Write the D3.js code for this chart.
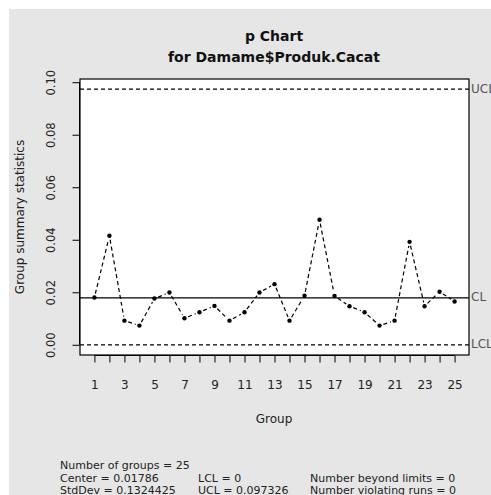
<!DOCTYPE html>
<html>
<head>
<meta charset="utf-8">
<script src="https://cdn.jsdelivr.net/npm/d3@7"></script>
<style>
  body { margin: 0; background: #fff; }
  svg { display: block; font-family: "DejaVu Sans", sans-serif; }
</style>
</head>
<body>
<svg width="491" height="495"></svg>
<script>
"use strict";

// group numbers and proportion defective per group
var groups = d3.range(1, 26);
var pValues = [0.0180, 0.0415, 0.0092, 0.0073, 0.0176, 0.0199, 0.0101, 0.0124, 0.0148, 0.0092,
	0.0124, 0.0199, 0.0231, 0.0092, 0.0187, 0.0476, 0.0186, 0.0147, 0.0124, 0.0073,
	0.0092, 0.0392, 0.0147, 0.0202, 0.0165];
var center = 0.01786;
var lcl = 0;
var ucl = 0.097326;
var yTicks = [0, 0.02, 0.04, 0.06, 0.08, 0.10];
var xLabels = [1, 3, 5, 7, 9, 11, 13, 15, 17, 19, 21, 23, 25];
var statsLines = [
	["Number of groups = 25", "", ""],
	["Center = 0.01786", "LCL = 0", "Number beyond limits = 0"],
	["StdDev = 0.1324425", "UCL = 0.097326", "Number violating runs = 0"]
];

var FONT = 'DejaVu Sans, sans-serif';
var svg = d3.select('svg');
var box = {left: 80, right: 469, top: 79, bottom: 355};

svg.append('rect')
	.attr('x', 9).attr('y', 9).attr('width', 482).attr('height', 486)
	.attr('fill', '#e6e6e6');

// R style 4% padding around data range
var x = d3.scaleLinear().domain([0.04, 25.96]).range([box.left, box.right]);
var y = d3.scaleLinear().domain([-0.00389, 0.10122]).range([box.bottom, box.top]);

svg.append('rect')
	.attr('x', box.left).attr('y', box.top)
	.attr('width', box.right - box.left).attr('height', box.bottom - box.top)
	.attr('fill', '#fff');

// limit lines
svg.append('line')
	.attr('x1', box.left).attr('x2', box.right)
	.attr('y1', y(center)).attr('y2', y(center))
	.attr('stroke', '#000').attr('stroke-width', 1.3);

[lcl, ucl].forEach(function(v) {
	svg.append('line')
		.attr('x1', box.left).attr('x2', box.right)
		.attr('y1', y(v)).attr('y2', y(v))
		.attr('stroke', '#000').attr('stroke-width', 1.3)
		.attr('stroke-dasharray', '4,3');
});

// dashed connecting segments with gaps at the points (type = "b")
var pts = groups.map(function(g, i) { return [x(g), y(pValues[i])]; });
var segs = d3.pairs(pts);
var gap = 4;
function trim(d, end) {
	var dx = d[1][0] - d[0][0], dy = d[1][1] - d[0][1], l = Math.hypot(dx, dy);
	return end ? [d[1][0] - dx * gap / l, d[1][1] - dy * gap / l] : [d[0][0] + dx * gap / l, d[0][1] + dy * gap / l];
}
svg.append('g').selectAll('line').data(segs).enter().append('line')
	.attr('x1', function(d) { return trim(d, false)[0]; })
	.attr('y1', function(d) { return trim(d, false)[1]; })
	.attr('x2', function(d) { return trim(d, true)[0]; })
	.attr('y2', function(d) { return trim(d, true)[1]; })
	.attr('stroke', '#000').attr('stroke-width', 1.2)
	.attr('stroke-dasharray', '4,3');

svg.append('g').selectAll('circle').data(pts).enter().append('circle')
	.attr('cx', function(d) { return d[0]; })
	.attr('cy', function(d) { return d[1]; })
	.attr('r', 2.2)
	.attr('fill', '#000');

svg.append('rect')
	.attr('x', box.left).attr('y', box.top)
	.attr('width', box.right - box.left).attr('height', box.bottom - box.top)
	.attr('fill', 'none').attr('stroke', '#000').attr('stroke-width', 1.2);

// x axis
var xAxis = d3.axisBottom(x).tickValues(groups).tickSize(7)
	.tickFormat(function(d) { return xLabels.indexOf(d) >= 0 ? d : ''; });
var gx = svg.append('g').attr('transform', 'translate(0,' + (box.bottom + 0.5) + ')').call(xAxis);
gx.select('.domain').attr('d', 'M' + x(1) + ',0H' + x(25)).attr('stroke', '#000');
gx.selectAll('text').attr('y', 25).attr('font-size', 12).attr('fill', '#222')
	.attr('font-family', FONT);

// y axis
var yAxis = d3.axisLeft(y).tickValues(yTicks).tickSize(7).tickFormat(d3.format('.2f'));
var gy = svg.append('g').attr('transform', 'translate(' + (box.left - 0.5) + ',0)').call(yAxis);
gy.select('.domain').attr('d', 'M0,' + y(0) + 'V' + y(0.10)).attr('stroke', '#000');
gy.selectAll('.tick text')
	.attr('x', null).attr('dy', null)
	.attr('transform', 'translate(-28,0) rotate(-90)')
	.attr('text-anchor', 'middle')
	.attr('dominant-baseline', 'middle')
	.attr('font-size', 11.5).attr('fill', '#222')
	.attr('font-family', FONT);

// right side limit labels
[["UCL", ucl], ["CL", center], ["LCL", lcl]].forEach(function(d) {
	svg.append('text')
		.attr('x', box.right + 2).attr('y', y(d[1]))
		.attr('dominant-baseline', 'middle')
		.attr('font-size', 12).attr('fill', '#555')
		.text(d[0]);
});

// titles
svg.append('text').attr('x', 274).attr('y', 41).attr('text-anchor', 'middle')
	.attr('font-size', 14).attr('font-weight', 'bold').attr('fill', '#111').text('p Chart');
svg.append('text').attr('x', 274).attr('y', 62).attr('text-anchor', 'middle')
	.attr('font-size', 14).attr('font-weight', 'bold').attr('fill', '#111').text('for Damame$Produk.Cacat');

svg.append('text').attr('x', 274).attr('y', 423).attr('text-anchor', 'middle')
	.attr('font-size', 12).attr('fill', '#222').text('Group');

svg.append('text')
	.attr('transform', 'translate(24,' + ((box.top + box.bottom) / 2) + ') rotate(-90)')
	.attr('text-anchor', 'middle')
	.attr('font-size', 12).attr('fill', '#222').text('Group summary statistics');

// stats block
var colX = [60, 198, 310];
statsLines.forEach(function(row, i) {
	row.forEach(function(t, j) {
		if (!t) return;
		svg.append('text').attr('x', colX[j]).attr('y', 469 + i * 12.5)
			.attr('font-size', 11).attr('fill', '#222').text(t);
	});
});
</script>
</body>
</html>
